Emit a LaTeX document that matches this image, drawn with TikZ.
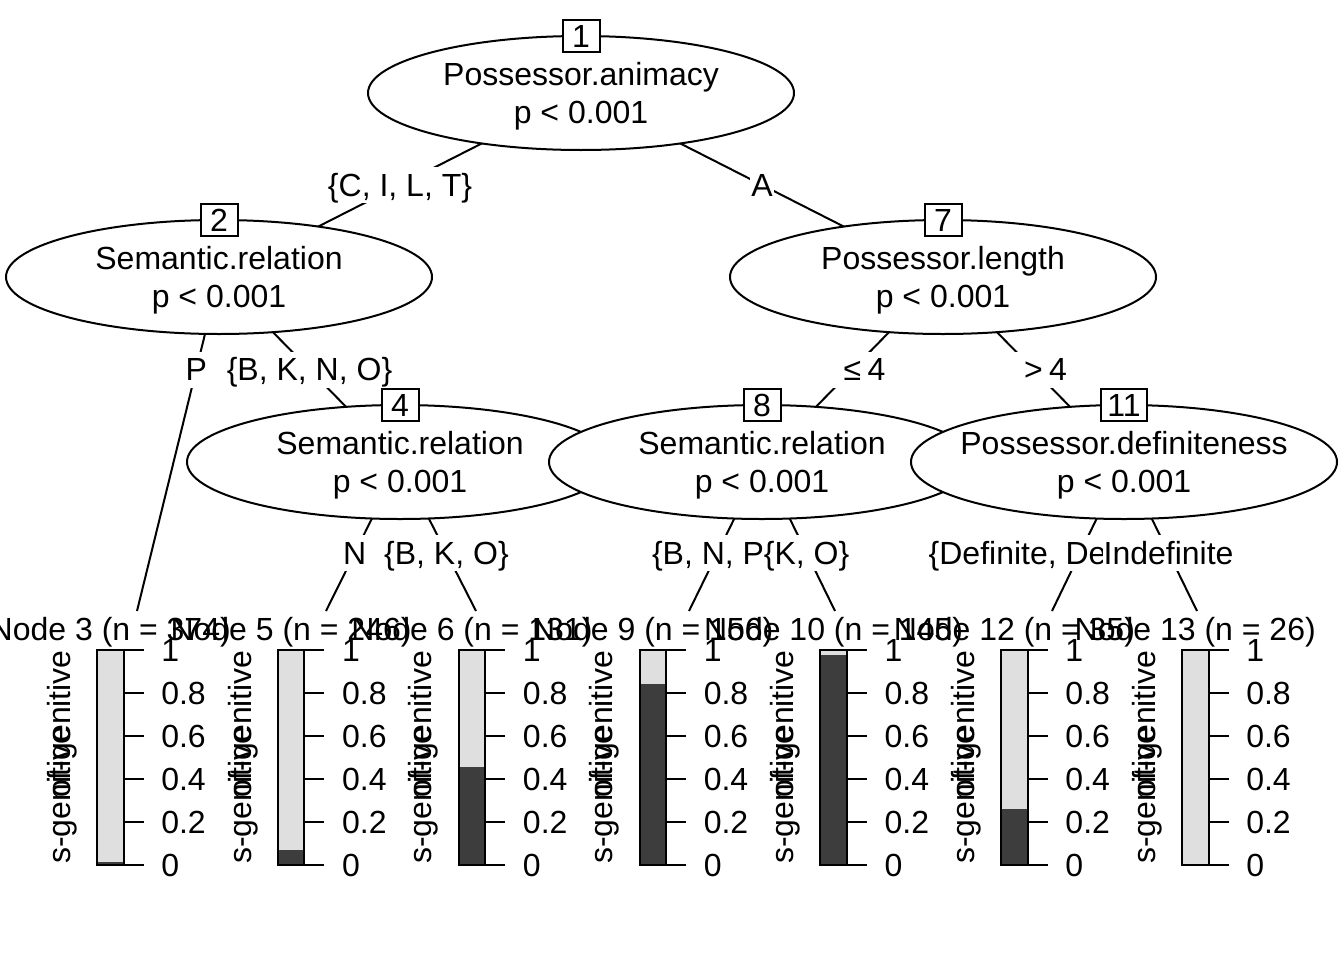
\documentclass[tikz,border=0pt]{standalone}
\usepackage{fontspec}
\setmainfont{Liberation Sans}
\usetikzlibrary{shapes.geometric,backgrounds}
\newcommand{\fs}{\fontsize{24}{28.9}\selectfont}
\definecolor{lightbar}{HTML}{DFDFDF}
\definecolor{darkbar}{HTML}{3D3D3D}
\tikzset{
  every node/.style={font=\fs},
  innernode/.style={ellipse, draw, fill=white, line width=1.5pt, minimum width=319.5pt, minimum height=85.5pt, inner sep=0pt},
  idbox/.style={draw, fill=white, line width=1.5pt, minimum width=27.75pt, minimum height=24pt, inner xsep=4.5pt, inner ysep=0pt},
  ntext/.style={align=center, inner sep=0pt},
  elab/.style={fill=white, inner xsep=0.75pt, inner ysep=0pt, text height=16.5pt, text depth=0pt, minimum height=27pt},
  edgeline/.style={line width=1.5pt},
  barline/.style={line width=1.5pt},
  ticklab/.style={anchor=west, inner sep=0pt},
}
\newcommand{\termpanel}[4]{%
  \begin{scope}[shift={(#3,0)}]
    \fill[lightbar] (0,650) rectangle (26.5,865);
    \fill[darkbar] (0,865) rectangle (26.5,{865-215*#4});
    \draw[barline] (0,650) rectangle (26.5,865);
    \foreach \v in {0,0.2,0.4,0.6,0.8,1}{
      \draw[barline] (26.5,{865-215*\v}) -- (46.5,{865-215*\v});
    }
    \node[ticklab] (#1ta) at (64,865) {0};
    \node[ticklab] (#1tb) at (64,822) {0.2};
    \node[ticklab] (#1tc) at (64,779) {0.4};
    \node[ticklab] (#1td) at (64,736) {0.6};
    \node[ticklab] (#1te) at (64,693) {0.8};
    \node[ticklab] (#1tf) at (64,650) {1};
    \node[rotate=90, anchor=west, inner sep=0pt] (#1ls) at (-35,864) {s-genitive};
    \node[rotate=90, anchor=east, inner sep=0pt] (#1lo) at (-35,650) {of-genitive};
    \node[anchor=base, inner sep=0pt] (#1title) at (13.25,640) {#2};
  \end{scope}}
\begin{document}
\begin{tikzpicture}[x=0.75pt,y=-0.75pt]
\useasboundingbox (0,0) rectangle (1344,960);

% terminal edge end points
\coordinate (k3) at (137,611);
\coordinate (k5) at (326,611);
\coordinate (k6) at (476,611);
\coordinate (k9) at (689,611);
\coordinate (k10) at (835,611);
\coordinate (k12) at (1052,611);
\coordinate (k13) at (1197,611);

% inner nodes
\node[innernode] (n1) at (581,93) {};
\node[ntext] (n1t) at (581,96) {Possessor.animacy\\p < 0.001};
\node[idbox] (n1b) at (581,36) {1};

\node[innernode] (n2) at (219,277) {};
\node[ntext] (n2t) at (219,280) {Semantic.relation\\p < 0.001};
\node[idbox] (n2b) at (219,220) {2};

\node[innernode] (n4) at (400,462) {};
\node[ntext] (n4t) at (400,465) {Semantic.relation\\p < 0.001};
\node[idbox] (n4b) at (400,405) {4};

\node[innernode] (n7) at (943,277) {};
\node[ntext] (n7t) at (943,280) {Possessor.length\\p < 0.001};
\node[idbox] (n7b) at (943,220) {7};

\node[innernode] (n8) at (762,462) {};
\node[ntext] (n8t) at (762,465) {Semantic.relation\\p < 0.001};
\node[idbox] (n8b) at (762,405) {8};

\node[innernode] (n11) at (1124,462) {};
\node[ntext] (n11t) at (1124,465) {Possessor.definiteness\\p < 0.001};
\node[idbox] (n11b) at (1124,405) {11};

% edges
\begin{pgfonlayer}{background}
\draw[edgeline] (n1.center) -- (n2.center) node[elab,pos=0.5] (e12) {\{C, I, L, T\}};
\draw[edgeline] (n1.center) -- (n7.center) node[elab,pos=0.5] (e17) {A};
\draw[edgeline] (n2.center) -- (k3) node[elab,pos=0.278] (e23) {P};
\draw[edgeline] (n2.center) -- (n4.center) node[elab,pos=0.5] (e24) {\{B, K, N, O\}};
\draw[edgeline] (n4.center) -- (k5) node[elab,pos=0.611] (e45) {N};
\draw[edgeline] (n4.center) -- (k6) node[elab,pos=0.611] (e46) {\{B, K, O\}};
\draw[edgeline] (n7.center) -- (n8.center) node[elab,pos=0.5] (e78) {\phantom{0}\hspace{0.2em}≤\hspace{0.2em}4};
\draw[edgeline] (n7.center) -- (n11.center) node[elab,pos=0.5] (e711) {\phantom{0}\hspace{0.2em}>\hspace{0.2em}4};
\draw[edgeline] (n8.center) -- (k9) node[elab,pos=0.611,xshift=-3pt] (e89) {\{B, N, P\}};
\draw[edgeline] (n8.center) -- (k10) node[elab,pos=0.611] (e810) {\{K, O\}};
\draw[edgeline] (n11.center) -- (k12) node[elab,pos=0.611,anchor=west,xshift=-115pt] (e1112) {\{Definite, De};
\draw[edgeline] (n11.center) -- (k13) node[elab,pos=0.611] (e1113) {Indefinite};
\end{pgfonlayer}

% terminal panels
\termpanel{p3}{Node 3 (n = 374)}{97}{0.015}
\termpanel{p5}{Node 5 (n = 246)}{277.8}{0.07}
\termpanel{p6}{Node 6 (n = 131)}{458.7}{0.455}
\termpanel{p9}{Node 9 (n = 156)}{639.5}{0.84}
\termpanel{p10}{Node 10 (n = 145)}{820.3}{0.975}
\termpanel{p12}{Node 12 (n = 35)}{1001.2}{0.26}
\termpanel{p13}{Node 13 (n = 26)}{1182}{0}
\end{tikzpicture}
\end{document}
